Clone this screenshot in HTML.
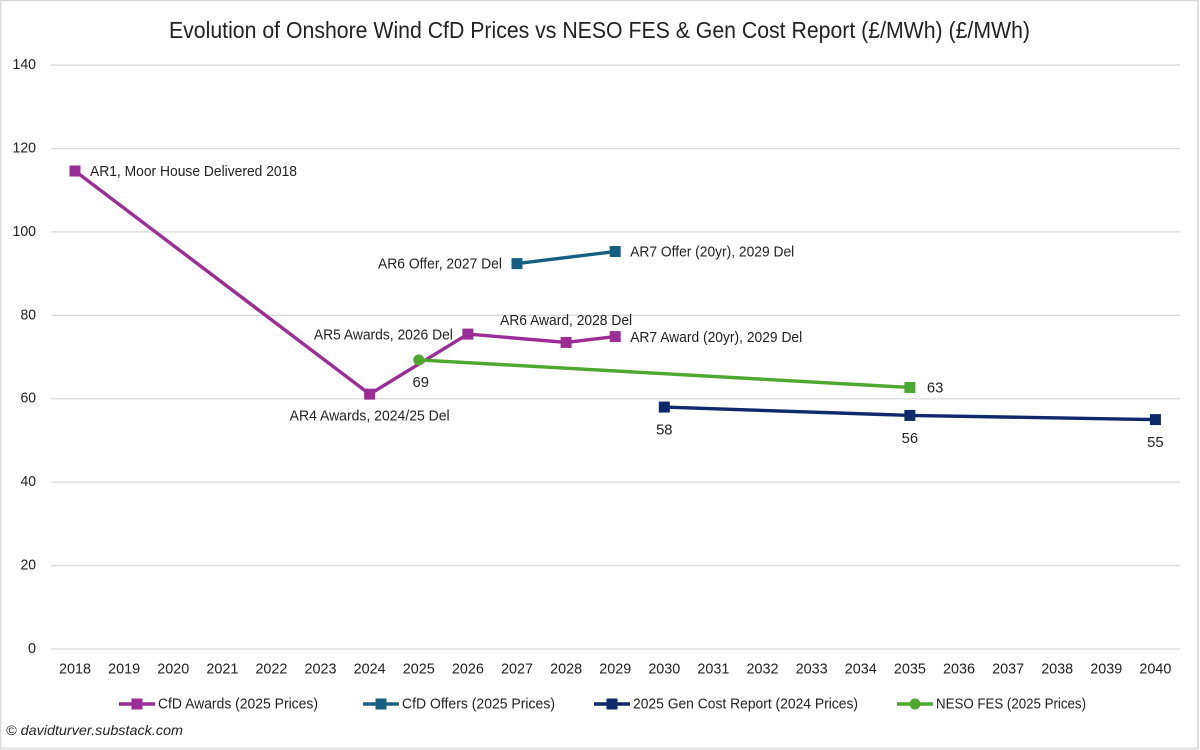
<!DOCTYPE html>
<html lang="en">
<head>
<meta charset="utf-8">
<title>Evolution of Onshore Wind CfD Prices</title>
<style>
html,body{margin:0;padding:0;background:#fff;width:1200px;height:750px;overflow:hidden}
svg{display:block}
text{font-family:"Liberation Sans",sans-serif;fill:#222}
</style>
</head>
<body>
<svg id="chart" width="1200" height="750" viewBox="0 0 1200 750" xmlns="http://www.w3.org/2000/svg"></svg>
<script>
const years = ['2018','2019','2020','2021','2022','2023','2024','2025','2026','2027','2028','2029','2030','2031','2032','2033','2034','2035','2036','2037','2038','2039','2040'];
const yTicks = [0, 20, 40, 60, 80, 100, 120, 140];

const awardYears = [2018, 2024, 2026, 2028, 2029];
const awardValues = [114.6, 61.1, 75.5, 73.5, 74.9];
const awardLabels = ['AR1, Moor House Delivered 2018', 'AR4 Awards, 2024/25 Del', 'AR5 Awards, 2026 Del', 'AR6 Award, 2028 Del', 'AR7 Award (20yr), 2029 Del'];

const offerYears = [2027, 2029];
const offerValues = [92.4, 95.3];
const offerLabels = ['AR6 Offer, 2027 Del', 'AR7 Offer (20yr), 2029 Del'];

const genCostYears = [2030, 2035, 2040];
const genCostValues = [58, 56, 55];
const genCostLabels = ['58', '56', '55'];

const nesoYears = [2025, 2035];
const nesoValues = [69.3, 62.7];
const nesoLabels = ['69', '63'];

const seriesNames = ['CfD Awards (2025 Prices)', 'CfD Offers (2025 Prices)', '2025 Gen Cost Report (2024 Prices)', 'NESO FES (2025 Prices)'];

const NS = 'http://www.w3.org/2000/svg';
const svg = document.getElementById('chart');
const COL_AWARD = '#9b2d96', COL_OFFER = '#156082', COL_GEN = '#0f2a6b', COL_NESO = '#4ea72e';

function x(year) { return 75 + (Number(year) - 2018) * 49.11; }
function y(val) { return 649 - val * 4.171; }

function make(tag, attrs, parent) {
  const el = document.createElementNS(NS, tag);
  for (const k in attrs) el.setAttribute(k, attrs[k]);
  (parent || svg).appendChild(el);
  return el;
}
function text(str, px, py, size, anchor, width, name, italic) {
  const t = make('text', {x: px, y: py, 'font-size': size, 'text-anchor': anchor || 'start', 'dominant-baseline': 'central'});
  if (width) { t.setAttribute('textLength', width); t.setAttribute('lengthAdjust', 'spacingAndGlyphs'); }
  if (italic) t.setAttribute('font-style', 'italic');
  
  
  t.textContent = str;
  return t;
}
function square(cx, cy, color, name) {
  const m = make('rect', {x: cx - 5.5, y: cy - 5.5, width: 11, height: 11, fill: color});
  
  
}
function circle(cx, cy, color, name) {
  const m = make('circle', {cx: cx, cy: cy, r: 5.5, fill: color});
  
  
}
function line(xs, vs, color, name) {
  const pts = xs.map((yr, i) => x(yr) + ',' + y(vs[i])).join(' ');
  const p = make('polyline', {points: pts, fill: 'none', stroke: color, 'stroke-width': 3.4, 'stroke-linejoin': 'round'});
  
  
}

// frame
const frame = make('rect', {x: 0.5, y: 0.5, width: 1197.5, height: 748, fill: '#fff', stroke: '#d9d9d9', 'stroke-width': 1.6});



// title
text('Evolution of Onshore Wind CfD Prices vs NESO FES & Gen Cost Report (£/MWh) (£/MWh)', 169, 30, 23.5, 'start', 861, 'chart-title');

// gridlines and y ticks
yTicks.forEach(v => {
  const g = make('line', {x1: 51, x2: 1180, y1: y(v), y2: y(v), stroke: '#d9d9d9', 'stroke-width': 1.3});
  
  
  text(String(v), 36, y(v) - 0.5, 15, 'end', v >= 100 ? 23.5 : (v > 0 ? 15.5 : 8), 'y-tick-' + v);
});

// x ticks
years.forEach(yr => text(yr, x(yr), 669, 15, 'middle', 32, 'x-tick-' + yr));

// series lines
line(awardYears, awardValues, COL_AWARD, 'cfd-awards-line');
line(offerYears, offerValues, COL_OFFER, 'cfd-offers-line');
line(genCostYears, genCostValues, COL_GEN, 'gen-cost-line');
line(nesoYears, nesoValues, COL_NESO, 'neso-fes-line');

// markers
awardYears.forEach((yr, i) => square(x(yr), y(awardValues[i]), COL_AWARD, 'cfd-awards-point-' + yr));
offerYears.forEach((yr, i) => square(x(yr), y(offerValues[i]), COL_OFFER, 'cfd-offers-point-' + yr));
genCostYears.forEach((yr, i) => square(x(yr), y(genCostValues[i]), COL_GEN, 'gen-cost-point-' + yr));
circle(x(nesoYears[0]), y(nesoValues[0]), COL_NESO, 'neso-fes-point-' + nesoYears[0]);
square(x(nesoYears[1]), y(nesoValues[1]), COL_NESO, 'neso-fes-point-' + nesoYears[1]);

// data labels, offset from their points
function label(str, xs, vs, i, dx, dy, anchor, width, name) {
  text(str, x(xs[i]) + dx, y(vs[i]) + dy, 15, anchor, width, name);
}
label(awardLabels[0], awardYears, awardValues, 0, 15, 0.5, 'start', 207, 'label-ar1');
label(awardLabels[1], awardYears, awardValues, 1, 0, 22, 'middle', 160, 'label-ar4');
label(awardLabels[2], awardYears, awardValues, 2, -15, 1, 'end', 139, 'label-ar5');
label(awardLabels[3], awardYears, awardValues, 3, 0, -22, 'middle', 132, 'label-ar6-award');
label(awardLabels[4], awardYears, awardValues, 4, 15, 1, 'start', 172, 'label-ar7-award');
label(offerLabels[0], offerYears, offerValues, 0, -15, 0.5, 'end', 124, 'label-ar6-offer');
label(offerLabels[1], offerYears, offerValues, 1, 15, 0.5, 'start', 164, 'label-ar7-offer');
label(genCostLabels[0], genCostYears, genCostValues, 0, 0, 23, 'middle', 16.5, 'label-gen-cost-2030');
label(genCostLabels[1], genCostYears, genCostValues, 1, 0, 23, 'middle', 16.5, 'label-gen-cost-2035');
label(genCostLabels[2], genCostYears, genCostValues, 2, 0, 23, 'middle', 16.5, 'label-gen-cost-2040');
label(nesoLabels[0], nesoYears, nesoValues, 0, 2, 22.5, 'middle', 16.5, 'label-neso-2025');
label(nesoLabels[1], nesoYears, nesoValues, 1, 17, 0.5, 'start', 16.5, 'label-neso-2035');

// legend
function legendEntry(i, lx, tx, tw, color, shape) {
  const g = make('g', {});
  
  
  make('line', {x1: lx, x2: lx + 36, y1: 704, y2: 704, stroke: color, 'stroke-width': 3.4}, g);
  if (shape === 'circle') make('circle', {cx: lx + 18, cy: 704, r: 5.5, fill: color}, g);
  else make('rect', {x: lx + 12.5, y: 698.5, width: 11, height: 11, fill: color}, g);
  const t = text(seriesNames[i], tx, 704, 15, 'start', tw, 'legend-label-' + (i + 1));
  g.appendChild(t);
}
legendEntry(0, 119, 158, 160, COL_AWARD, 'square');
legendEntry(1, 363, 402, 153, COL_OFFER, 'square');
legendEntry(2, 594, 633, 225, COL_GEN, 'square');
legendEntry(3, 897, 936, 150, COL_NESO, 'circle');

// footer credit
text('© davidturver.substack.com', 6, 730, 14, 'start', 177, 'source-credit', true);
</script>
</body>
</html>
